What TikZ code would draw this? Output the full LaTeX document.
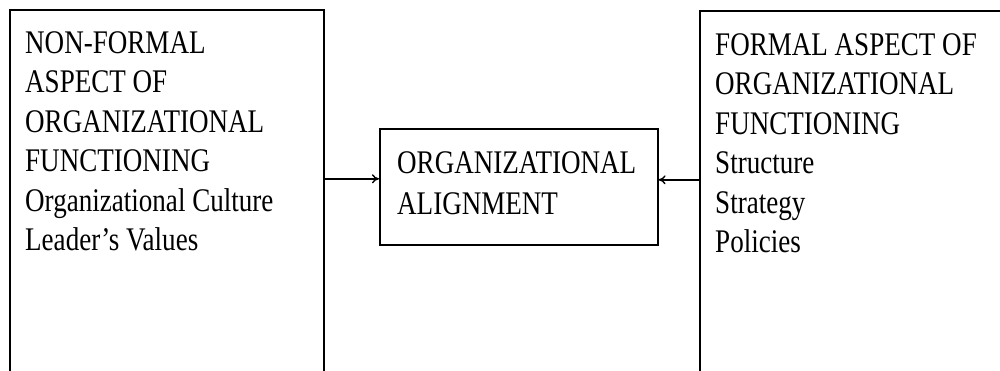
\documentclass[tikz,border=0pt]{standalone}
\usepackage{fontspec}
\setmainfont[FakeStretch=0.82]{Liberation Serif}
\usetikzlibrary{arrows.meta}
\begin{document}
\begin{tikzpicture}[x=1pt,y=-1pt,
  box/.style={draw=black, line width=1.6pt, inner sep=0pt},
  txt/.style={inner sep=0pt, anchor=base west, font=\fontsize{33}{39.5}\selectfont},
  arr/.style={line width=1.4pt, -{To[length=7pt,width=9pt]}}]
\useasboundingbox (0,0) rectangle (1000,370);
\clip (0,0) rectangle (1000,370);
\node[box, anchor=north west, minimum width=314pt, minimum height=380pt] (L) at (9,9) {};
\node[box, anchor=north west, minimum width=320pt, minimum height=380pt] (R) at (699,10) {};
\node[box, anchor=north west, minimum width=278pt, minimum height=116pt] (M) at (379,128) {};
\node[txt] (Lt) at (25,53) {\begin{tabular}[t]{@{}l@{}}NON-FORMAL\\ASPECT OF\\ORGANIZATIONAL\\FUNCTIONING\\Organizational Culture\\Leader’s Values\end{tabular}};
\node[txt] (Rt) at (715,55) {\begin{tabular}[t]{@{}l@{}}FORMAL ASPECT OF\\ORGANIZATIONAL\\FUNCTIONING\\Structure\\Strategy\\Policies\end{tabular}};
\node[txt, font=\fontsize{33}{41}\selectfont] (Mt) at (397,173) {\begin{tabular}[t]{@{}l@{}}ORGANIZATIONAL\\ALIGNMENT\end{tabular}};
\coordinate (ml) at ([yshift=8pt]M.west);
\coordinate (mr) at ([yshift=7pt]M.east);
\draw[arr] (L.east |- ml) -- (ml);
\draw[arr] (R.west |- mr) -- (mr);
\end{tikzpicture}
\end{document}
